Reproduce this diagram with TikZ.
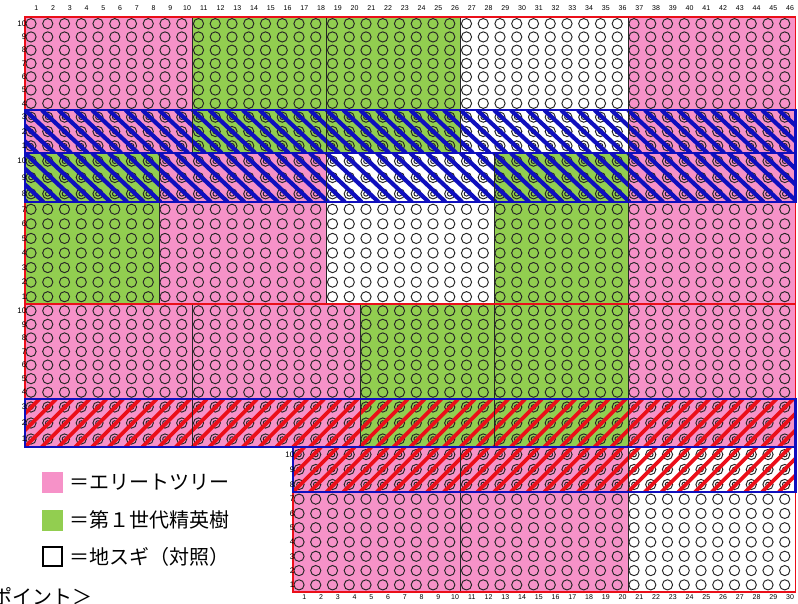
\documentclass[tikz,border=0pt]{standalone}
\usepackage{fontspec}
\setmainfont{Liberation Sans}
\newfontfamily\jp{Noto Sans CJK JP}
\definecolor{pinkc}{RGB}{246,146,200}
\definecolor{greenc}{RGB}{146,206,80}
\definecolor{bandblue}{RGB}{15,15,190}
\definecolor{bandred}{RGB}{235,15,25}
\tikzset{
 circ/.style={line width=0.95pt, draw=black!85},
 plotline/.style={line width=0.9pt, draw=black!85},
 redborder/.style={line width=1.5pt, draw=bandred},
 band/.style={line width=2.6pt, draw=bandblue},
 bluehatch/.style={line width=4.2pt, draw=bandblue},
 redhatch/.style={line width=3.6pt, draw=bandred},
 rowlab/.style={anchor=east, inner sep=0pt, font=\fontsize{8}{9}\selectfont},
 collab/.style={inner sep=0pt, font=\fontsize{7}{8}\selectfont},
 legtext/.style={anchor=west, inner sep=0pt, font=\jp\fontsize{20}{22}\selectfont},
 legbox/.style={minimum width=21pt, minimum height=21pt, inner sep=0pt},
}
% fill columns c1..c2 between y0 and y1
\newcommand\pfill[5]{\fill[#5] ({25+(#1-1)*16.75},#3) rectangle ({25+#2*16.75},#4);}
% circles: c1 c2 ya yb nrows double
\newcommand\circs[6]{%
 \foreach \c in {#1,...,#2}{\foreach \k in {1,...,#5}{%
   \pgfmathsetmacro\cx{25+(\c-1)*16.75+6}%
   \pgfmathsetmacro\cy{#3+(\k-0.5)*(#4-#3)/#5}%
   \draw[circ] (\cx,\cy) circle[radius=5.1pt];
   \ifnum#6=1 \draw[circ] (\cx,\cy) circle[radius=2.3pt];\fi
 }}}
% row labels: x ya yb nrows topnumber id
\newcommand\rlabs[6]{%
 \foreach \k in {1,...,#4}{%
   \pgfmathtruncatemacro\num{#5-\k+1}%
   \pgfmathsetmacro\cy{#2+(\k-0.5)*(#3-#2)/#4}%
   \node[rowlab] (rl#6k\k) at (#1,\cy) {\num};
 }}
% plot boundary line after column c, from ya to yb
\newcommand\pline[3]{\draw[plotline] ({25+#1*16.75},#2) -- ({25+#1*16.75},#3);}
\begin{document}
\begin{tikzpicture}[x=1pt,y=-1pt]
\useasboundingbox (0,0) rectangle (798,603);
\fill[white] (0,0) rectangle (798,603);
% ---------- fills ----------
% block 1
\pfill{1}{10}{17}{153}{pinkc}
\pfill{11}{26}{17}{153}{greenc}
\pfill{37}{46}{17}{153}{pinkc}
% block 2
\pfill{1}{8}{153}{304}{greenc}
\pfill{9}{18}{153}{304}{pinkc}
\pfill{29}{36}{153}{304}{greenc}
\pfill{37}{46}{153}{304}{pinkc}
% block 3
\pfill{1}{20}{304}{447}{pinkc}
\pfill{21}{36}{304}{447}{greenc}
\pfill{37}{46}{304}{447}{pinkc}
% block 4
\pfill{17}{36}{447}{592}{pinkc}
% ---------- circles ----------
\circs{1}{46}{17}{110}{7}{0}
\circs{1}{46}{110}{153}{3}{1}
\circs{1}{46}{153}{202}{3}{1}
\circs{1}{46}{202}{304}{7}{0}
\circs{1}{46}{304}{399}{7}{0}
\circs{1}{46}{399}{447}{3}{1}
\circs{17}{46}{447}{492}{3}{1}
\circs{17}{46}{492}{592}{7}{0}
% ---------- hatching ----------
\begin{scope}
 \clip (25,110) rectangle (795.5,153);
 \foreach \i in {-4,...,46} \draw[bluehatch] ({25+\i*16.75},110) -- ++(46,43);
\end{scope}
\begin{scope}
 \clip (25,153) rectangle (795.5,202);
 \foreach \i in {-4,...,46} \draw[bluehatch] ({25+\i*16.75},153) -- ++(52,49);
\end{scope}
\begin{scope}
 \clip (25,399) rectangle (795.5,447);
 \foreach \i in {-4,...,46} \draw[redhatch] ({25+\i*16.75},447) -- ++(48,-48);
\end{scope}
\begin{scope}
 \clip (293,447) rectangle (795.5,492);
 \foreach \i in {12,...,46} \draw[redhatch] ({25+\i*16.75},492) -- ++(45,-45);
\end{scope}
% ---------- plot boundaries ----------
\pline{10}{17}{153}\pline{18}{17}{153}\pline{26}{17}{153}\pline{36}{17}{153}
\pline{8}{153}{304}\pline{18}{153}{304}\pline{28}{153}{304}\pline{36}{153}{304}
\pline{10}{304}{447}\pline{20}{304}{447}\pline{28}{304}{447}\pline{36}{304}{447}
\pline{26}{447}{592}\pline{36}{447}{592}
% ---------- block borders ----------
\draw[redborder] (25,17) rectangle (795.5,153);
\draw[redborder] (25,153) rectangle (795.5,304);
\draw[redborder] (25,304) rectangle (795.5,447);
\draw[redborder] (293,447) rectangle (795.5,592);
% ---------- bands ----------
\draw[band] (25,110) rectangle (795.5,153);
\draw[band] (25,153) rectangle (795.5,202);
\draw[band] (25,399) rectangle (795.5,447);
\draw[band] (293,447) rectangle (795.5,492);
% ---------- labels ----------
\rlabs{26.5}{17}{110}{7}{10}{a}
\rlabs{26.5}{110}{153}{3}{3}{b}
\rlabs{26.5}{153}{202}{3}{10}{c}
\rlabs{26.5}{202}{304}{7}{7}{d}
\rlabs{26.5}{304}{399}{7}{10}{e}
\rlabs{26.5}{399}{447}{3}{3}{f}
\rlabs{294.5}{447}{492}{3}{10}{g}
\rlabs{294.5}{492}{592}{7}{7}{h}
\foreach \c in {1,...,46} \node[collab] (ct\c) at ({25+(\c-0.5)*16.75+3},8) {\c};
\foreach \c in {1,...,30} \node[collab] (cb\c) at ({293+(\c-0.5)*16.75+3},597) {\c};
% ---------- legend ----------
\node[legbox, fill=pinkc] (lp) at (52.5,482.5) {};
\node[legbox, fill=greenc] (lg) at (52.5,520) {};
\node[legbox, draw=black, line width=1.6pt, minimum width=19pt, minimum height=19pt] (lw) at (52.5,556.5) {};
\node[legtext] (tp) at (69,482.5) {＝エリートツリー};
\node[legtext] (tg) at (69,520) {＝第１世代精英樹};
\node[legtext] (tw) at (69,556.5) {＝地スギ（対照）};
\node[legtext] (pt) at (-8,596) {ポイント＞};
\end{tikzpicture}
\end{document}
